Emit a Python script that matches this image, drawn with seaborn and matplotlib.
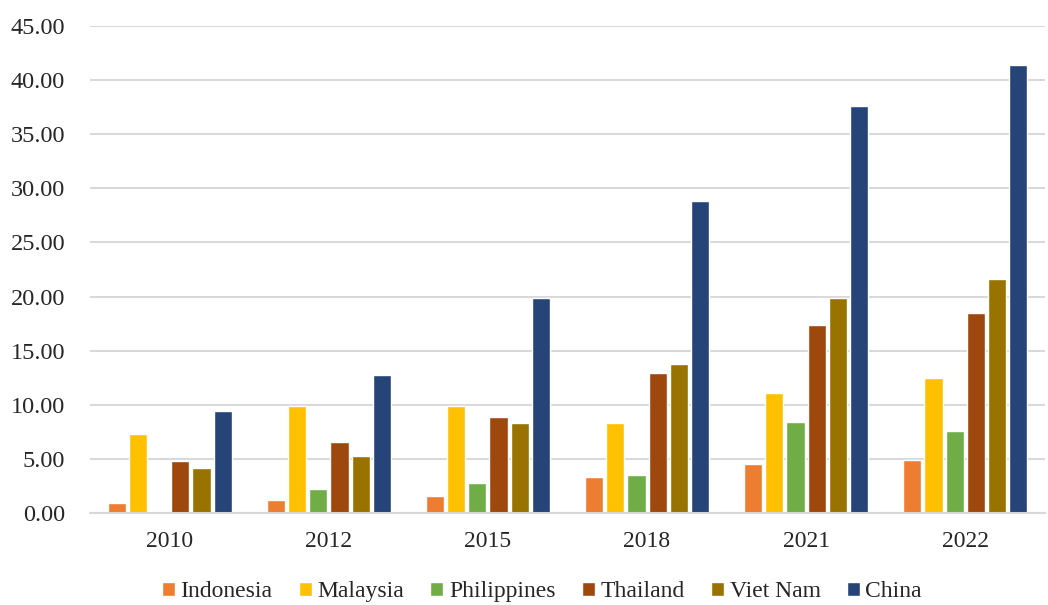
import matplotlib
matplotlib.use("Agg")
import matplotlib.pyplot as plt
import seaborn as sns
import pandas as pd

years = ["2010", "2012", "2015", "2018", "2021", "2022"]
countries = ["Indonesia", "Malaysia", "Philippines", "Thailand", "Viet Nam", "China"]
indonesia = [0.90, 1.20, 1.55, 3.30, 4.55, 4.90]
malaysia = [7.30, 9.90, 9.90, 8.30, 11.10, 12.45]
philippines = [0.00, 2.20, 2.80, 3.47, 8.45, 7.55]
thailand = [4.80, 6.55, 8.85, 12.95, 17.35, 18.45]
vietnam = [4.20, 5.30, 8.30, 13.75, 19.85, 21.65]
china = [9.40, 12.80, 19.85, 28.80, 37.60, 41.40]
colors = ["#ED7D31", "#FFC000", "#70AD47", "#9E480E", "#997300", "#264478"]

series = [indonesia, malaysia, philippines, thailand, vietnam, china]
rows = []
for c, vals in zip(countries, series):
    for y, v in zip(years, vals):
        rows.append({"Year": y, "Country": c, "Value": v})
df = pd.DataFrame(rows)

sns.set_style("white")
plt.rcParams["font.family"] = ["Liberation Serif", "DejaVu Serif"]

fig = plt.figure(figsize=(10.48, 6.05), dpi=100)
ax = fig.add_axes([0.086, 0.152, 0.911, 0.805])
sns.barplot(data=df, x="Year", y="Value", hue="Country", order=years,
            hue_order=countries, palette=colors, gap=0.14, width=0.8,
            saturation=1, errorbar=None, ax=ax, legend=True)

ax.set_ylim(0, 45)
ax.set_yticks(range(0, 46, 5))
ax.set_yticklabels([f"{v:.2f}" for v in range(0, 46, 5)], fontsize=17.5)
ax.tick_params(axis="x", labelsize=17, length=0, pad=13)
ax.tick_params(axis="y", length=0, pad=18)
ax.set_xlabel("")
ax.set_ylabel("")
ax.set_xlim(-0.5, 5.5)
ax.yaxis.grid(True, color="#D9D9D9", linewidth=1.5)
ax.set_axisbelow(True)
for s in ["top", "right", "left"]:
    ax.spines[s].set_visible(False)
ax.spines["bottom"].set_color("#D9D9D9")
ax.spines["bottom"].set_linewidth(1.5)

handles, labels = ax.get_legend_handles_labels()
ax.legend_.remove()
fig.legend(handles, labels, loc="center", bbox_to_anchor=(0.517, 0.022),
           ncol=6, frameon=False, fontsize=17, handlelength=0.55,
           handleheight=0.55, handletextpad=0.25, columnspacing=1.1)

fig.savefig("out.png", dpi=100)
